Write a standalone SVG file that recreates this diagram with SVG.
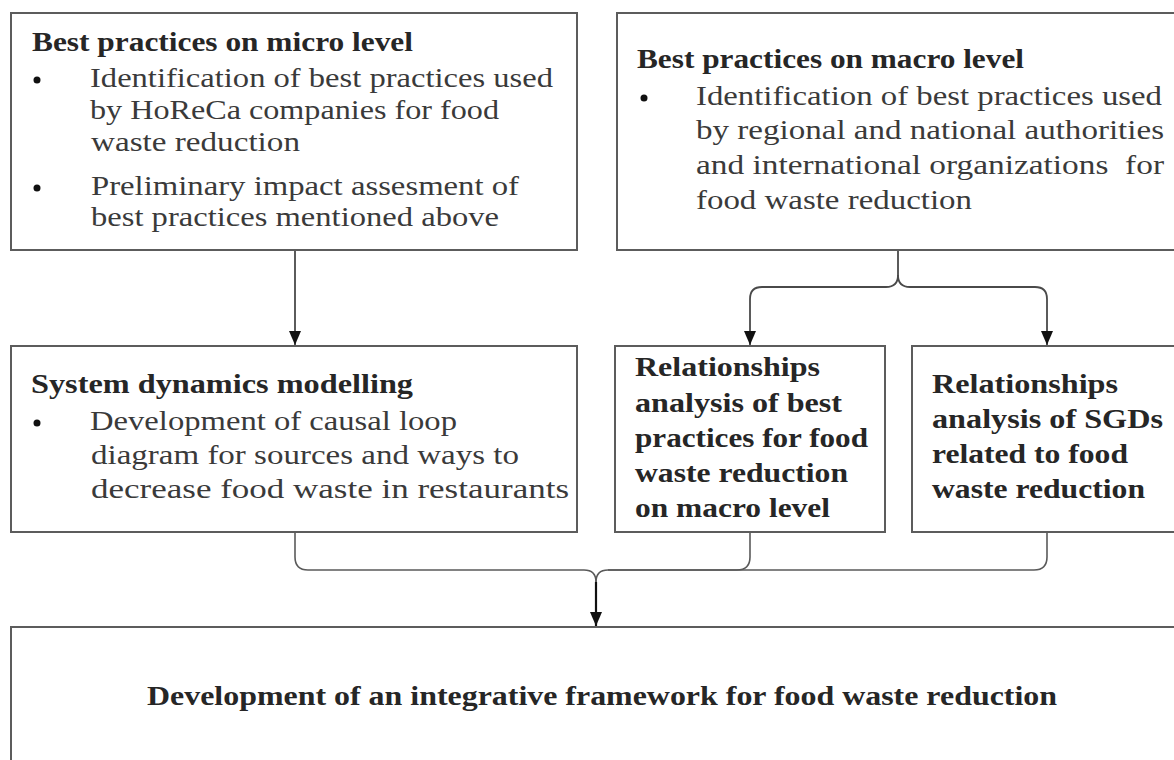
<svg xmlns="http://www.w3.org/2000/svg" width="1174" height="760" viewBox="0 0 1174 760">
<defs>
<marker id="ah" viewBox="0 0 14 12" refX="14" refY="6" markerWidth="14" markerHeight="12" markerUnits="userSpaceOnUse" orient="auto">
<path d="M0,0 L14,6 L0,12 Z" fill="#111"/>
</marker>
<style>
.box{fill:#fff;stroke:#5c5c5c;stroke-width:2}
.t{font-family:"Liberation Serif","Times New Roman",serif;font-size:28px;fill:#3a3a3a}
.b{font-family:"Liberation Serif","Times New Roman",serif;font-size:28px;font-weight:bold;fill:#262626}
.bul{fill:#111}
.c{fill:none;stroke:#5a5a5a;stroke-width:1.6}
.ca{fill:none;stroke:#4a4a4a;stroke-width:1.8}
.cm{fill:none;stroke:#111;stroke-width:2.2}
</style>
</defs>
<rect width="1174" height="760" fill="#fff"/>

<g id="connectors">
<path class="ca" d="M295,251 V345" marker-end="url(#ah)"/>
<path class="ca" d="M898,251 V275 Q898,287 886,287 H762 Q750,287 750,299 V345" marker-end="url(#ah)"/>
<path class="ca" d="M898,275 Q898,287 910,287 H1035 Q1047,287 1047,299 V345" marker-end="url(#ah)"/>
<path class="c" d="M295,533 V557 Q295,570 308,570 H584 Q596,570 596,582"/>
<path class="c" d="M750,533 V557 Q750,570 737,570 H608 Q596,570 596,582"/>
<path class="c" d="M1047,533 V557 Q1047,570 1034,570 H608"/>
<path class="cm" d="M596,582 V626" marker-end="url(#ah)"/>
</g>

<g id="micro">
<rect class="box" x="11" y="13" width="566" height="237"/>
<text class="b" x="32" y="51" textLength="381" lengthAdjust="spacingAndGlyphs">Best practices on micro level</text>
<circle class="bul" cx="37" cy="80" r="3.5"/>
<text class="t" x="90" y="87" textLength="463" lengthAdjust="spacingAndGlyphs">Identification of best practices used</text>
<text class="t" x="90" y="119" textLength="409" lengthAdjust="spacingAndGlyphs">by HoReCa companies for food</text>
<text class="t" x="91" y="151" textLength="209" lengthAdjust="spacingAndGlyphs">waste reduction</text>
<circle class="bul" cx="37" cy="188" r="3.5"/>
<text class="t" x="91" y="195" textLength="428" lengthAdjust="spacingAndGlyphs">Preliminary impact assesment of</text>
<text class="t" x="91" y="226" textLength="408" lengthAdjust="spacingAndGlyphs">best practices mentioned above</text>
</g>

<g id="macro">
<rect class="box" x="617" y="13" width="570" height="237"/>
<text class="b" x="637" y="68" textLength="387" lengthAdjust="spacingAndGlyphs">Best practices on macro level</text>
<circle class="bul" cx="644" cy="98" r="3.5"/>
<text class="t" x="696" y="105" textLength="466" lengthAdjust="spacingAndGlyphs">Identification of best practices used</text>
<text class="t" x="696" y="139" textLength="468" lengthAdjust="spacingAndGlyphs">by regional and national authorities</text>
<text class="t" x="696" y="174" textLength="468" lengthAdjust="spacingAndGlyphs" xml:space="preserve">and international organizations  for</text>
<text class="t" x="696" y="209" textLength="276" lengthAdjust="spacingAndGlyphs">food waste reduction</text>
</g>

<g id="sysdyn">
<rect class="box" x="11" y="346" width="566" height="186"/>
<text class="b" x="31" y="393" textLength="382" lengthAdjust="spacingAndGlyphs">System dynamics modelling</text>
<circle class="bul" cx="37" cy="423" r="3.5"/>
<text class="t" x="90" y="430" textLength="367" lengthAdjust="spacingAndGlyphs">Development of causal loop</text>
<text class="t" x="91" y="464" textLength="428" lengthAdjust="spacingAndGlyphs">diagram for sources and ways to</text>
<text class="t" x="91" y="498" textLength="478" lengthAdjust="spacingAndGlyphs">decrease food waste in restaurants</text>
</g>

<g id="relbest">
<rect class="box" x="615" y="346" width="270" height="186"/>
<text class="b" x="635" y="376" textLength="185" lengthAdjust="spacingAndGlyphs">Relationships</text>
<text class="b" x="635" y="412" textLength="207" lengthAdjust="spacingAndGlyphs">analysis of best</text>
<text class="b" x="635" y="447" textLength="233" lengthAdjust="spacingAndGlyphs">practices for food</text>
<text class="b" x="635" y="482" textLength="213" lengthAdjust="spacingAndGlyphs">waste reduction</text>
<text class="b" x="635" y="517" textLength="195" lengthAdjust="spacingAndGlyphs">on macro level</text>
</g>

<g id="relsgd">
<rect class="box" x="912" y="346" width="280" height="186"/>
<text class="b" x="932" y="393" textLength="186" lengthAdjust="spacingAndGlyphs">Relationships</text>
<text class="b" x="932" y="428" textLength="231" lengthAdjust="spacingAndGlyphs">analysis of SGDs</text>
<text class="b" x="932" y="463" textLength="196" lengthAdjust="spacingAndGlyphs">related to food</text>
<text class="b" x="932" y="498" textLength="213" lengthAdjust="spacingAndGlyphs">waste reduction</text>
</g>

<g id="framework">
<rect class="box" x="11" y="627" width="1180" height="150"/>
<text class="b" x="147" y="705" textLength="910" lengthAdjust="spacingAndGlyphs">Development of an integrative framework for food waste reduction</text>
</g>
</svg>
